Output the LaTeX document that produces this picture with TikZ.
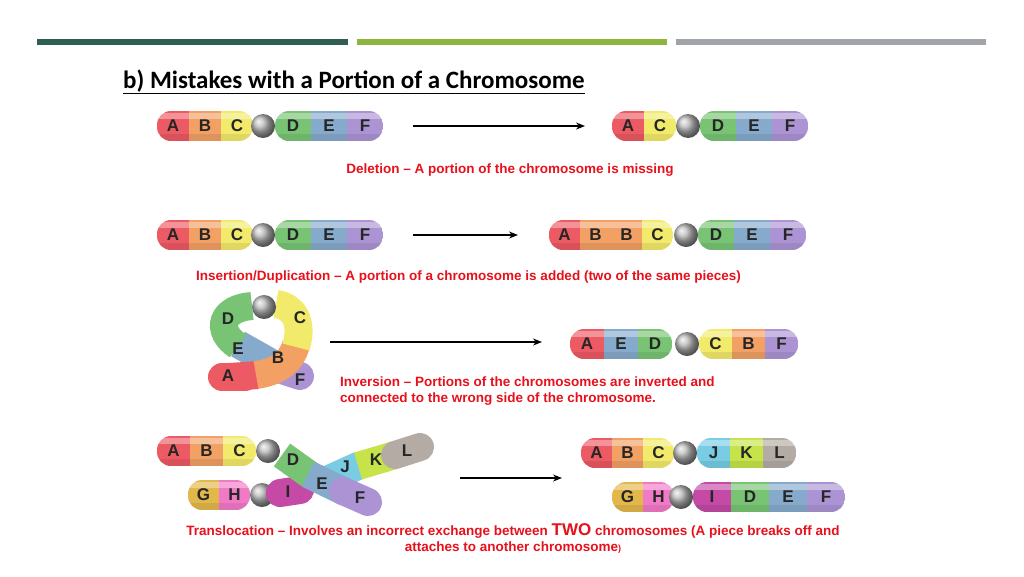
\documentclass[tikz,border=0pt]{standalone}
\usepackage{fontspec}
\setmainfont{Liberation Sans}
\newfontfamily\titlefont{Carlito}
\usetikzlibrary{arrows.meta}
\definecolor{cA}{HTML}{EC5A63}\definecolor{cB}{HTML}{F2A064}\definecolor{cC}{HTML}{F2EA6A}
\definecolor{cD}{HTML}{78C474}\definecolor{cE}{HTML}{86AACB}\definecolor{cF}{HTML}{AC94D4}
\definecolor{cG}{HTML}{E2B84A}\definecolor{cH}{HTML}{F07AC6}\definecolor{cI}{HTML}{C44AA6}
\definecolor{cJ}{HTML}{78CCE4}\definecolor{cK}{HTML}{C6E44A}\definecolor{cL}{HTML}{B4ACA4}
\definecolor{red1}{HTML}{E8101A}
\definecolor{bar1}{HTML}{2F5F53}\definecolor{bar2}{HTML}{8DB43E}\definecolor{bar3}{HTML}{A0A4A8}
\tikzset{lt/.style={font=\fontsize{17}{17}\selectfont\bfseries,text=black!85,inner sep=0pt},
 captxt/.style={font=\fontsize{13.5}{16}\selectfont\bfseries,text=red1,inner sep=0pt},
 arr/.style={-{Stealth[length=9pt,width=7pt]},line width=1.2pt},
 band/.style={line width=28pt,line cap=butt},
 bandr/.style={line width=28pt,line cap=round}}
\newcommand\arm[5]{%
 \begin{scope}
 \clip[rounded corners=14pt] (#1,#2-15) rectangle ({#1+#3*#4},#2+15);
 \foreach \c/\l [count=\i from 0] in {#5} {\fill[\c] ({#1+\i*#3},#2-15) rectangle ++(#3,30);}
 \fill[white,opacity=.35] (#1,#2-13) rectangle ({#1+#3*#4},#2-7);
 \fill[black,opacity=.08] (#1,#2+8) rectangle ({#1+#3*#4},#2+15);
 \end{scope}
 \foreach \c/\l [count=\i from 0] in {#5} {\node[lt] at ({#1+(\i+0.5)*#3},#2) {\l};}}
\newcommand\ball[2]{\shade[ball color=gray!55] (#1,#2) circle (12);}
\begin{document}
\begin{tikzpicture}[x=1pt,y=-1pt]
\useasboundingbox (0,0) rectangle (1024,576);
\fill[white] (0,0) rectangle (1024,576);
\fill[bar1] (37,39) rectangle (348,45);
\fill[bar2] (357,39) rectangle (667,45);
\fill[bar3] (676,39) rectangle (986,45);
\node[anchor=west,inner sep=0pt,font=\titlefont\fontsize{25}{25}\selectfont\bfseries] (title) at (123,82) {\underline{b) Mistakes with a Portion of a Chromosome}};
% row 1
\arm{157}{126}{32}{3}{cA/A,cB/B,cC/C}\ball{263}{126}\arm{275}{126}{36}{3}{cD/D,cE/E,cF/F}
\coordinate (a1s) at (413,126);\coordinate (a1e) at (585,126);\draw[arr] (a1s)--(a1e);
\arm{612}{126}{32}{2}{cA/A,cC/C}\ball{688}{126}\arm{700}{126}{36}{3}{cD/D,cE/E,cF/F}
\node[captxt] (t1) at (510,170) {Deletion – A portion of the chromosome is missing};
% row 2
\arm{157}{235}{32}{3}{cA/A,cB/B,cC/C}\ball{263}{235}\arm{275}{235}{36}{3}{cD/D,cE/E,cF/F}
\coordinate (a2s) at (413,235);\coordinate (a2e) at (518,235);\draw[arr] (a2s)--(a2e);
\arm{549}{235}{31}{4}{cA/A,cB/B,cB/B,cC/C}\ball{686}{235}\arm{698}{235}{36}{3}{cD/D,cE/E,cF/F}
\node[captxt,anchor=west] (t2) at (196,277) {Insertion/Duplication – A portion of a chromosome is added (two of the same pieces)};
% row 3 twisted
\draw[bandr,cF] (282,370)--(300,376);
\draw[band,cE] (238,344)--(284,370);
\draw[band,cD] (252,306) .. controls (222,308) and (214,330) .. (238,346);
\draw[bandr,cA] (222,377)--(245,377);
\draw[band,cA] (230,377)--(258,375);
\draw[band,cB] (256,375) .. controls (275,372) and (290,365) .. (296,345);
\draw[band,cC] (296,347) .. controls (304,320) and (292,306) .. (276,304);
\ball{264}{307}
\node[lt] at (228,319) {D};\node[lt] at (300,318) {C};\node[lt] at (238,349) {E};
\node[lt] at (278,358) {B};\node[lt] at (228,376) {A};\node[lt] at (300,380) {F};
\coordinate (a3s) at (330,342);\coordinate (a3e) at (542,342);\draw[arr] (a3s)--(a3e);
\arm{570}{344}{34}{3}{cA/A,cE/E,cD/D}\ball{687}{344}\arm{699}{344}{33}{3}{cC/C,cB/B,cF/F}
\node[captxt,anchor=west,align=left] (t3) at (340,391) {Inversion – Portions of the chromosomes are inverted and\\connected to the wrong side of the chromosome.};
% row 4 twisted
\arm{157}{451}{33}{3}{cA/A,cB/B,cC/C}\ball{268}{451}
\arm{188}{495}{31}{2}{cG/G,cH/H}\ball{262}{495}
\draw[band,cJ] (318,484)--(360,465);
\draw[band,cK] (358,466)--(395,455);
\draw[bandr,cL] (395,455)--(420,447);
\draw[bandr,cI] (280,493)--(300,490);
\draw[band,cD] (282,455)--(310,475);
\draw[band,cE] (308,474)--(345,492);
\draw[bandr,cF] (343,491)--(368,502);
\node[lt] at (293,460) {D};\node[lt] at (322,484) {E};\node[lt] at (360,498) {F};
\node[lt] at (345,467) {J};\node[lt] at (376,460) {K};\node[lt] at (407,451) {L};
\node[lt] at (288,492) {I};
\coordinate (a4s) at (460,478);\coordinate (a4e) at (562,478);\draw[arr] (a4s)--(a4e);
\arm{581}{453}{31}{3}{cA/A,cB/B,cC/C}\ball{685}{453}\arm{697}{453}{33}{3}{cJ/J,cK/K,cL/L}
\arm{612}{497}{31}{2}{cG/G,cH/H}\ball{681}{497}\arm{693}{497}{38}{4}{cI/I,cD/D,cE/E,cF/F}
\node[captxt,align=center] (t4) at (513,538) {Translocation – Involves an incorrect exchange between {\fontsize{17}{16}\selectfont TWO} chromosomes (A piece breaks off and\\attaches to another chromosome{\fontsize{9}{9}\selectfont)}};
\end{tikzpicture}
\end{document}
